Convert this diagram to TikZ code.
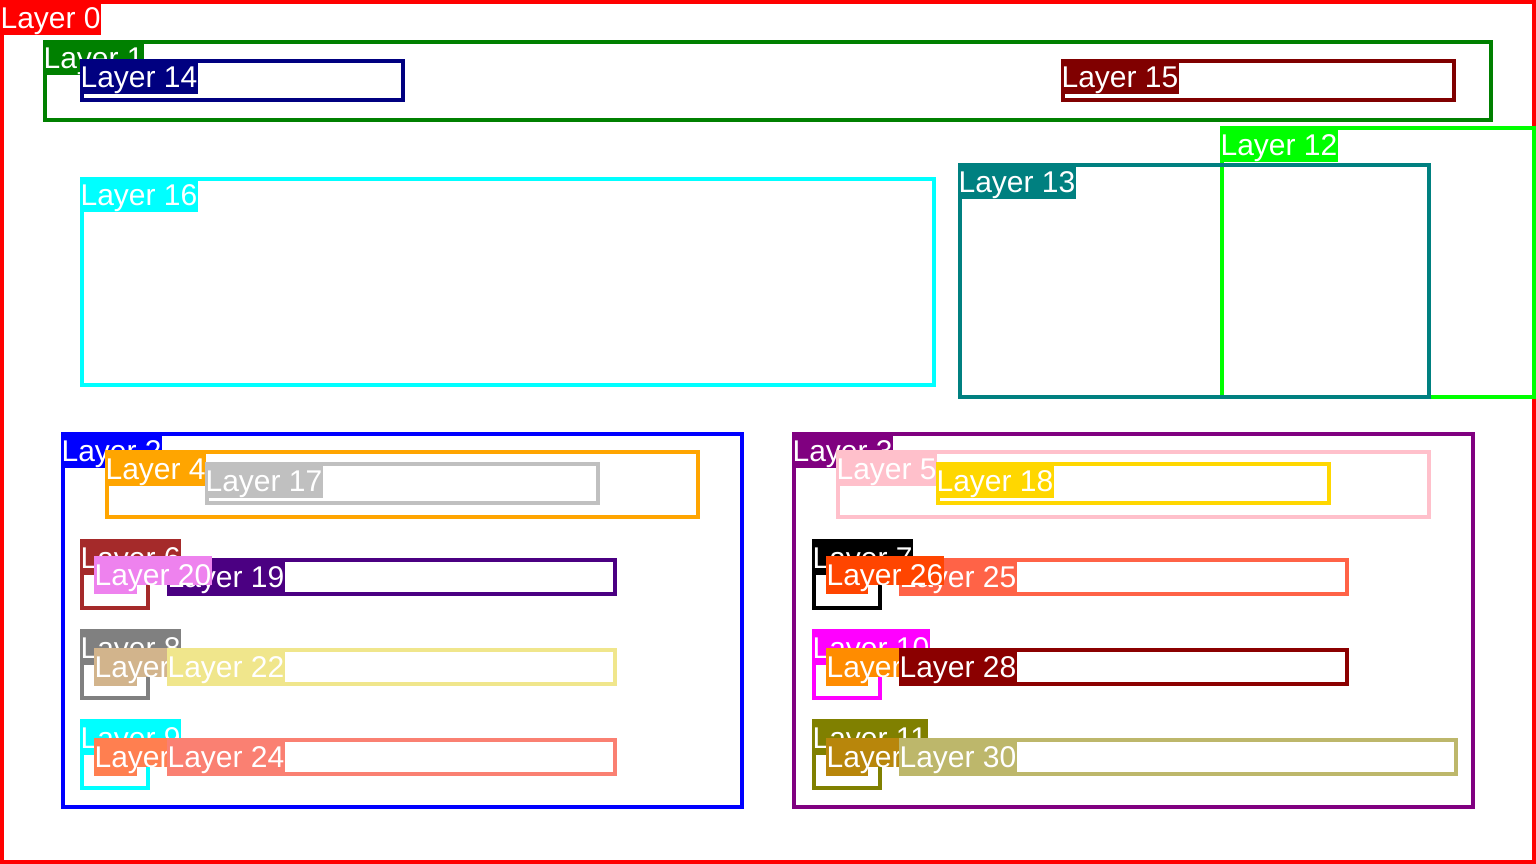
\documentclass[tikz,border=0pt]{standalone}
\usepackage{fontspec}
\setmainfont{Liberation Sans}
\begin{document}
\begin{tikzpicture}[x=1pt,y=1pt,
  lyrbox/.style={rectangle,anchor=north west,inner sep=0pt,outer sep=0pt,line width=4pt},
  lyrlabel/.style={rectangle,anchor=north west,inner sep=0pt,inner xsep=0.6pt,outer sep=0pt,
    text=white,font=\fontsize{30pt}{36pt}\selectfont,text height=29pt,text depth=6.5pt},
  shortlabel/.style={text depth=0.3pt}]

% layer colours
\definecolor{cL0}{HTML}{FF0000}
\definecolor{cL1}{HTML}{008000}
\definecolor{cL2}{HTML}{0000FF}
\definecolor{cL3}{HTML}{800080}
\definecolor{cL4}{HTML}{FFA500}
\definecolor{cL5}{HTML}{FFC0CB}
\definecolor{cL6}{HTML}{A52A2A}
\definecolor{cL7}{HTML}{000000}
\definecolor{cL8}{HTML}{808080}
\definecolor{cL9}{HTML}{00FFFF}
\definecolor{cL10}{HTML}{FF00FF}
\definecolor{cL11}{HTML}{808000}
\definecolor{cL12}{HTML}{00FF00}
\definecolor{cL13}{HTML}{008080}
\definecolor{cL14}{HTML}{000080}
\definecolor{cL15}{HTML}{800000}
\definecolor{cL16}{HTML}{00FFFF}
\definecolor{cL17}{HTML}{C0C0C0}
\definecolor{cL18}{HTML}{FFD700}
\definecolor{cL19}{HTML}{4B0082}
\definecolor{cL20}{HTML}{EE82EE}
\definecolor{cL21}{HTML}{D2B48C}
\definecolor{cL22}{HTML}{F0E68C}
\definecolor{cL23}{HTML}{FF7F50}
\definecolor{cL24}{HTML}{FA8072}
\definecolor{cL25}{HTML}{FF6347}
\definecolor{cL26}{HTML}{FF4500}
\definecolor{cL27}{HTML}{FF8C00}
\definecolor{cL28}{HTML}{8B0000}
\definecolor{cL29}{HTML}{B8860B}
\definecolor{cL30}{HTML}{BDB76B}

\useasboundingbox (0,0) rectangle (1536,-864);
\fill[white] (0,0) rectangle (1536,-864);

% \lyr[box options]{name}{x0}{y0}{x1}{y1}{text}: outlined box from its outer
% top-left (x0,y0) to bottom-right (x1,y1), y measured downward, with a tag
% in the top-left corner
\newcommand\lyr[7][]{%
  \node[lyrbox,draw=c#2,minimum width={#5-#3-4},minimum height={#6-#4-4},#1]
    (#2) at ({#3+2},{-#4-2}) {};
  \node[lyrlabel,fill=c#2] (#2tag) at ({#3},{-#4}) {#7};
}
% small boxes: solid body and a shorter tag
\newcommand\smalllyr[6]{%
  \node[lyrbox,draw=c#1,fill=c#1,minimum width={#4-#2-4},minimum height={#5-#3-4}]
    (#1) at ({#2+2},{-#3-2}) {};
  \node[lyrlabel,shortlabel,fill=c#1] (#1tag) at ({#2},{-#3}) {#6};
}

\lyr{L0}{0}{0}{1536}{864}{Layer 0}
\lyr{L1}{43}{40}{1493}{122}{Layer 1}
\lyr{L2}{61}{432}{744}{808.5}{Layer 2}
\lyr{L3}{792}{432}{1475}{808.5}{Layer 3}
\lyr{L4}{105}{450}{700}{519}{Layer 4}
\lyr{L5}{836}{450}{1431}{519}{Layer 5}
\lyr{L6}{80}{539}{149.5}{610}{Layer 6}
\lyr{L7}{812}{539}{882}{610}{Layer 7}
\lyr{L8}{80}{629}{150}{700}{Layer 8}
\lyr{L9}{80}{719}{150}{790}{Layer 9}
\lyr{L10}{812}{629}{882}{700}{Layer 10}
\lyr{L11}{812}{719}{882}{790}{Layer 11}
\lyr{L12}{1220}{126}{1536}{399}{Layer 12}
\lyr{L13}{958}{163}{1431}{399}{Layer 13}
\lyr{L14}{80}{59}{405}{102.5}{Layer 14}
\lyr{L15}{1061}{59}{1456}{102.5}{Layer 15}
\lyr{L16}{80}{176.5}{936}{387}{Layer 16}
\lyr{L17}{205}{462}{600}{505}{Layer 17}
\lyr{L18}{936}{462}{1331}{505}{Layer 18}
\lyr{L19}{167}{558}{617}{596}{Layer 19}
\smalllyr{L20}{94}{556}{137}{594}{Layer 20}
\smalllyr{L21}{94}{648}{137}{686}{Layer 21}
\lyr{L22}{167}{648}{617}{686}{Layer 22}
\smalllyr{L23}{94}{738}{137}{776}{Layer 23}
\lyr{L24}{167}{738}{617}{776}{Layer 24}
\lyr{L25}{899}{558}{1349}{596}{Layer 25}
\smalllyr{L26}{826}{556}{868}{594}{Layer 26}
\smalllyr{L27}{826}{648}{868}{686}{Layer 27}
\lyr{L28}{899}{648}{1349}{686}{Layer 28}
\smalllyr{L29}{826}{738}{868}{776}{Layer 29}
\lyr{L30}{899}{738}{1458}{776}{Layer 30}
\end{tikzpicture}
\end{document}
